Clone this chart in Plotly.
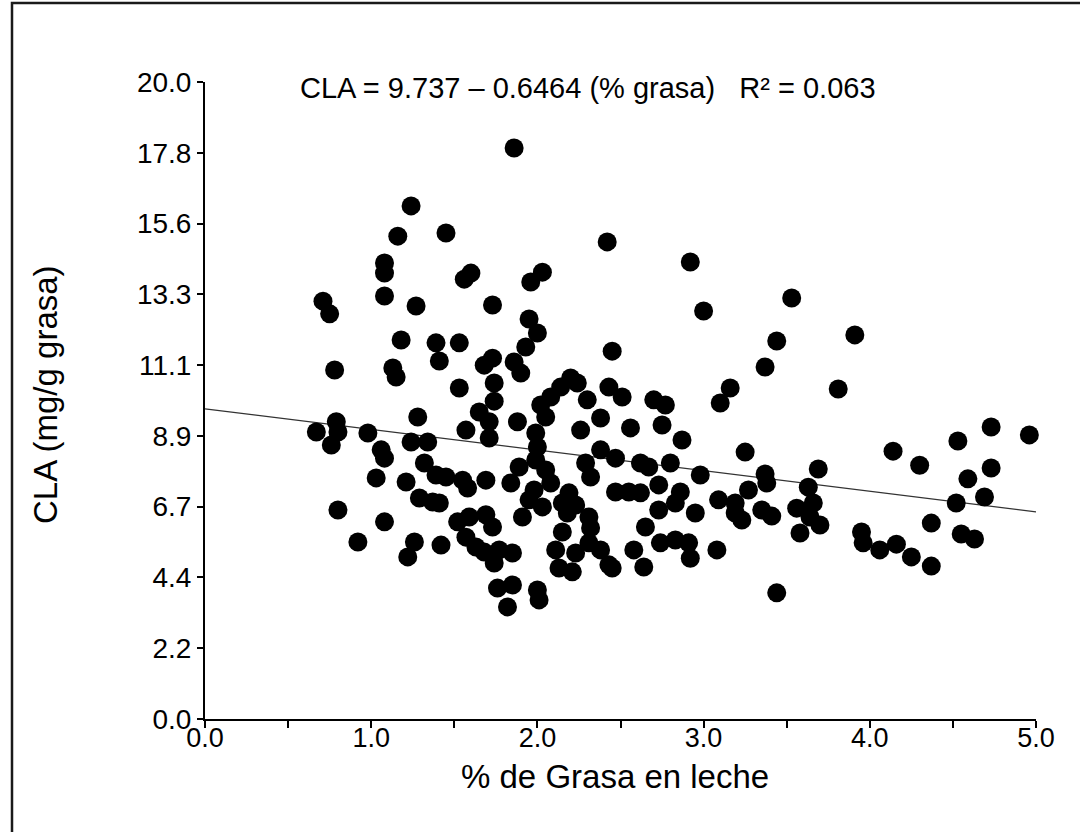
import plotly.graph_objects as go

# % fat in milk
fat_pct = [
    1.24, 1.16, 1.45, 1.08, 1.08, 1.60, 1.56, 1.08, 0.71, 0.75,
    1.27, 1.73, 1.18, 1.39, 1.53, 1.41, 0.78, 1.13, 1.15, 1.68,
    1.73, 1.86, 2.42, 2.92, 3.00, 2.03, 1.96, 1.95, 2.00, 1.93,
    2.45, 3.44, 3.37, 1.86, 1.90, 1.53, 1.74, 1.74, 1.65, 1.71,
    1.71, 1.28, 0.79, 0.80, 0.67, 0.76, 0.98, 1.06, 1.08, 1.24,
    1.34, 1.57, 1.32, 1.39, 1.45, 1.55, 1.58, 1.03, 1.21, 1.29,
    1.37, 1.41, 1.69, 0.80, 1.08, 0.92, 1.26, 1.22, 1.42, 1.52,
    1.59, 1.69, 1.73, 1.57, 1.63, 1.68, 1.74, 1.76, 1.84, 1.77,
    1.85, 1.85, 1.82, 3.16, 3.10, 2.20, 2.24, 2.14, 2.08, 2.02,
    2.30, 2.05, 1.88, 1.99, 2.00, 1.99, 1.89, 2.05, 2.08, 1.98,
    1.95, 2.03, 1.91, 2.26, 2.38, 2.43, 2.51, 2.56, 2.70, 2.77,
    2.75, 2.87, 3.25, 2.38, 2.47, 2.29, 2.32, 2.19, 2.15, 2.23,
    2.31, 2.32, 2.18, 2.47, 2.55, 2.62, 2.62, 2.67, 2.73, 2.80,
    2.86, 2.83, 2.73, 2.98, 2.95, 2.65, 3.09, 3.19, 3.19, 3.23,
    3.27, 3.35, 3.41, 3.37, 3.38, 2.15, 2.11, 2.23, 2.31, 2.38,
    2.43, 2.45, 2.13, 2.21, 2.58, 2.64, 2.74, 2.83, 2.91, 2.92,
    3.08, 2.00, 2.01, 3.44, 3.53, 3.91, 3.81, 4.14, 4.30, 4.53,
    4.73, 4.96, 4.73, 4.59, 4.69, 4.52, 4.37, 4.55, 4.63, 3.69,
    3.63, 3.66, 3.56, 3.64, 3.70, 3.58, 3.95, 3.96, 4.06, 4.16,
    4.25, 4.37,
]

# CLA (mg/g fat)
cla = [
    16.11, 15.16, 15.26, 14.32, 14.00, 14.00, 13.81, 13.28, 13.12, 12.72,
    12.97, 13.00, 11.90, 11.81, 11.81, 11.24, 10.96, 11.02, 10.74, 11.11,
    11.33, 17.93, 14.98, 14.35, 12.81, 14.03, 13.72, 12.56, 12.12, 11.68,
    11.55, 11.87, 11.05, 11.21, 10.86, 10.39, 10.55, 9.98, 9.64, 9.33,
    8.82, 9.48, 9.33, 9.01, 9.01, 8.60, 8.98, 8.45, 8.19, 8.70,
    8.70, 9.07, 8.04, 7.66, 7.60, 7.50, 7.25, 7.57, 7.44, 6.94,
    6.81, 6.78, 7.50, 6.56, 6.19, 5.56, 5.56, 5.09, 5.46, 6.19,
    6.34, 6.41, 6.03, 5.71, 5.40, 5.24, 4.90, 4.11, 7.41, 5.31,
    5.21, 4.21, 3.52, 10.39, 9.92, 10.71, 10.55, 10.42, 10.11, 9.86,
    10.02, 9.48, 9.33, 8.98, 8.54, 8.13, 7.91, 7.82, 7.41, 7.19,
    6.88, 6.66, 6.34, 9.07, 9.45, 10.42, 10.11, 9.14, 10.02, 9.86,
    9.23, 8.76, 8.38, 8.45, 8.19, 8.04, 7.60, 7.10, 6.78, 6.72,
    6.34, 6.00, 6.47, 7.13, 7.13, 7.10, 8.04, 7.91, 7.35, 8.04,
    7.13, 6.78, 6.56, 7.66, 6.47, 6.03, 6.88, 6.78, 6.47, 6.25,
    7.19, 6.56, 6.37, 7.69, 7.41, 5.87, 5.31, 5.21, 5.53, 5.31,
    4.84, 4.74, 4.74, 4.62, 5.31, 4.77, 5.53, 5.62, 5.53, 5.05,
    5.31, 4.05, 3.74, 3.96, 13.22, 12.06, 10.36, 8.41, 7.97, 8.73,
    9.17, 8.92, 7.88, 7.54, 6.97, 6.78, 6.15, 5.81, 5.65, 7.85,
    7.28, 6.78, 6.62, 6.34, 6.09, 5.84, 5.87, 5.53, 5.31, 5.49,
    5.09, 4.80,
]

# Regression shown on the chart
intercept = 9.737
slope = -0.6464
r_squared = 0.063
fit_x = [0.0, 5.0]

x_tick_vals = [0.0, 1.0, 2.0, 3.0, 4.0, 5.0]
x_tick_text = ["0.0", "1.0", "2.0", "3.0", "4.0", "5.0"]
x_minor_vals = [0.5, 1.5, 2.5, 3.5, 4.5]
y_tick_text = ["0.0", "2.2", "4.4", "6.7", "8.9", "11.1", "13.3", "15.6", "17.8", "20.0"]
y_tick_vals = [i * 20.0 / 9.0 for i in range(len(y_tick_text))]

FONT = "Liberation Sans, Arial, Helvetica, sans-serif"

fig = go.Figure()

fig.add_trace(go.Scatter(
    x=fit_x,
    y=[intercept + slope * v for v in fit_x],
    mode="lines",
    line=dict(color="#333333", width=1.3),
    hoverinfo="skip",
    showlegend=False,
))

fig.add_trace(go.Scatter(
    x=fat_pct,
    y=cla,
    mode="markers",
    marker=dict(symbol="circle", size=19, color="black", line=dict(width=0)),
    cliponaxis=False,
    showlegend=False,
))

L, R, T, B = 205, 44, 82, 113
W, H = 1080, 832
pw, ph = W - L - R, H - T - B


def px(xp):
    return (xp - L) / pw


def py(yp):
    return (H - B - yp) / ph


fig.update_layout(
    width=W,
    height=H,
    margin=dict(l=L, r=R, t=T, b=B),
    paper_bgcolor="white",
    plot_bgcolor="white",
    font=dict(family=FONT, color="black"),
    xaxis=dict(
        range=[0, 5],
        showgrid=False,
        zeroline=False,
        showline=True,
        linecolor="black",
        linewidth=2,
        ticks="outside",
        ticklen=7,
        tickwidth=1.5,
        tickcolor="black",
        tickvals=x_tick_vals,
        ticktext=x_tick_text,
        ticklabelstandoff=-13,
        tickfont=dict(size=27, family=FONT, color="black"),
        minor=dict(tickvals=x_minor_vals, ticks="outside", ticklen=7,
                   tickwidth=1.5, tickcolor="black", showgrid=False),
    ),
    yaxis=dict(
        range=[0, 20],
        showgrid=False,
        zeroline=False,
        showline=True,
        linecolor="black",
        linewidth=2,
        ticks="outside",
        ticklen=6,
        tickwidth=1.5,
        tickcolor="black",
        tickvals=y_tick_vals,
        ticktext=y_tick_text,
        tickfont=dict(size=28, family=FONT, color="black"),
    ),
    annotations=[
        dict(
            text=f"CLA = {intercept} \u2013 {abs(slope)} (% grasa)   R\u00b2 = {r_squared}",
            xref="paper", yref="paper", x=px(588), y=py(88),
            xanchor="center", yanchor="middle", showarrow=False,
            font=dict(size=29, family=FONT, color="black"),
        ),
        dict(
            text="% de Grasa en leche",
            xref="paper", yref="paper", x=px(615), y=py(776),
            xanchor="center", yanchor="middle", showarrow=False,
            font=dict(size=33, family=FONT, color="black"),
        ),
        dict(
            text="CLA (mg/g grasa)",
            xref="paper", yref="paper", x=px(45), y=py(395),
            xanchor="center", yanchor="middle", showarrow=False, textangle=-90,
            font=dict(size=33, family=FONT, color="black"),
        ),
    ],
    shapes=[
        dict(
            type="rect", xref="paper", yref="paper",
            x0=px(12), x1=px(1100), y0=py(860), y1=py(3),
            line=dict(color="#1a1a1a", width=2.5),
            fillcolor="rgba(0,0,0,0)", layer="below",
        )
    ],
)

fig.write_html("out.html")
